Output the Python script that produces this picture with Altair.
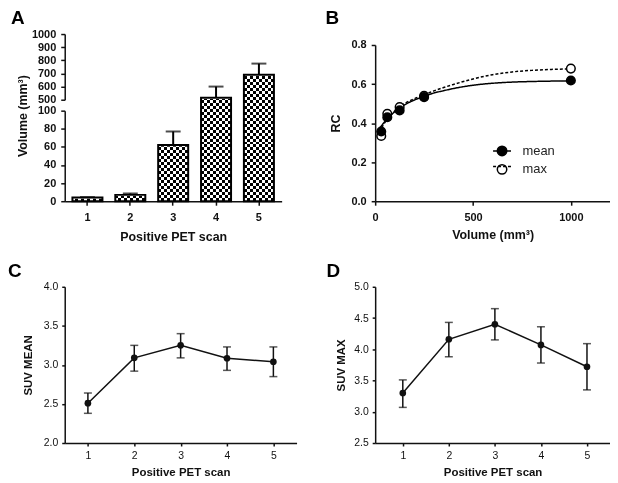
import altair as alt
import pandas as pd

FONT = "Liberation Sans"
INK = "#111111"

# ---------------- data ----------------
# Panel A: tumour volume per positive PET scan
scan_labels = ["1", "2", "3", "4", "5"]
volume_mm3 = [4, 7, 62, 515, 690]
volume_sem = [0.5, 1.5, 15, 85, 85]

# Panel B: recovery coefficient vs sphere volume
sphere_volume = [31, 62, 125, 250, 1000]
rc_mean = [0.357, 0.430, 0.465, 0.533, 0.618]
rc_max = [0.334, 0.448, 0.482, 0.540, 0.679]
fit_volume = [20, 60, 100, 150, 200, 250, 300, 350, 400, 500, 600, 700, 800, 900, 1000]
fit_mean = [0.370, 0.420, 0.458, 0.493, 0.518, 0.537, 0.554, 0.566, 0.577, 0.594, 0.604, 0.610, 0.613, 0.615, 0.616]
fit_max = [0.355, 0.418, 0.462, 0.500, 0.525, 0.545, 0.565, 0.582, 0.598, 0.626, 0.648, 0.662, 0.670, 0.675, 0.677]
series_names = ["mean", "max"]

# Panels C and D
scan_number = [1, 2, 3, 4, 5]
suv_mean = [2.51, 3.09, 3.25, 3.085, 3.04]
suv_mean_lo = [2.38, 2.92, 3.09, 2.93, 2.85]
suv_mean_hi = [2.64, 3.25, 3.40, 3.23, 3.23]
suv_max = [3.30, 4.16, 4.40, 4.07, 3.72]
suv_max_lo = [3.07, 3.88, 4.15, 3.78, 3.35]
suv_max_hi = [3.51, 4.43, 4.65, 4.36, 4.09]


# ---------------- helpers ----------------
def axis(orient, values=None, title=None, fmt=None, bold=True, lfs=11, tfs=12.5,
         lpad=5, tpad=8, tick=4, **extra):
    kw = dict(orient=orient, title=title, grid=False,
              labelFont=FONT, labelFontSize=lfs, labelFontWeight="bold" if bold else "normal",
              labelColor=INK, titleFont=FONT, titleFontSize=tfs, titleFontWeight="bold",
              titleColor=INK, domainColor=INK, domainWidth=1.5, tickColor=INK, tickWidth=1.5,
              tickSize=tick, labelPadding=lpad, titlePadding=tpad, labelFlush=False,
              labelOverlap=False)
    if values is not None:
        kw["values"] = values
    if fmt:
        kw["format"] = fmt
    if orient == "bottom":
        kw["labelAngle"] = 0
    kw.update(extra)
    return alt.Axis(**kw)


def stripes(n, along_y):
    stops = []
    for i in range(n):
        c = "black" if i % 2 == 0 else "white"
        stops.append(alt.GradientStop(offset=i / n, color=c))
        stops.append(alt.GradientStop(offset=(i + 1) / n, color=c))
    if along_y:
        return alt.LinearGradient(gradient="linear", stops=stops, x1=0, x2=0, y1=0, y2=1)
    return alt.LinearGradient(gradient="linear", stops=stops, x1=0, x2=1, y1=0, y2=0)


def letter(ch, dx, dy):
    return alt.Chart(pd.DataFrame({"t": [ch]})).mark_text(
        font=FONT, fontSize=19, fontWeight="bold", color="black", align="left",
        baseline="alphabetic").encode(text="t:N", x=alt.value(dx), y=alt.value(dy))


# ---------------- panel A (broken axis bar chart) ----------------
A_H = 168                      # plot height
LO_PX, HI_PX, GAP_PX = 91, 66, 11   # lower segment, upper segment, break (pixels)

dfA = pd.DataFrame({"scan": scan_labels, "volume": volume_mm3, "sem": volume_sem})
xA = alt.Scale(domain=scan_labels, paddingInner=0.3, paddingOuter=0.18)
yA_lo = alt.Scale(domain=[0, 100], range=[A_H, A_H - LO_PX], nice=False, zero=False)
yA_hi = alt.Scale(domain=[500, 1000], range=[HI_PX, 0], nice=False, zero=False)
xA_axis = axis("bottom", title="Positive PET scan", lpad=6, tpad=8)
yA_lo_axis = axis("left", [0, 20, 40, 60, 80, 100], title="Volume (mm³)", fmt="d", titleY=82)
yA_hi_axis = axis("left", [500, 600, 700, 800, 900, 1000], fmt="d")

# bar heights expressed on the lower scale, continuing through the axis break
to_lower = (f"datum.volume <= 100 ? datum.volume : "
            f"100 + ({GAP_PX} + (datum.volume - 500) * {HI_PX} / 500) * 100 / {LO_PX}")
top_lower = f"100 + ({GAP_PX} + {HI_PX}) * 100 / {LO_PX}"

A_src = alt.Chart(dfA).transform_calculate(
    v=to_lower, base="0", top=top_lower, e="datum.volume + datum.sem")
xA_enc = alt.X("scan:N", scale=xA, axis=xA_axis)


def YL(field):
    return alt.Y(field, type="quantitative", scale=yA_lo, axis=yA_lo_axis)


def YH(field):
    return alt.Y(field, type="quantitative", scale=yA_hi, axis=yA_hi_axis)


bg = A_src.mark_bar(fill=stripes(56, True)).encode(x=xA_enc, y=YL("base"), y2="top:Q")
fg = A_src.mark_bar(fill=stripes(10, False), blend="difference").encode(
    x=xA_enc, y=YL("v"), y2="base:Q")
cover = A_src.mark_bar(fill="white", stroke="white", strokeWidth=2.5).encode(
    x=xA_enc, y=YL("v"), y2="top:Q")
outline = A_src.mark_bar(fill="transparent", stroke="black", strokeWidth=2).encode(
    x=xA_enc, y=YL("v"), y2="base:Q")
err_lo_src = A_src.transform_filter("datum.volume < 100")
err_lo = err_lo_src.mark_rule(color="black", strokeWidth=2).encode(
    x=xA_enc, y=YL("volume"), y2="e:Q")
cap_lo = err_lo_src.mark_tick(color="black", orient="horizontal", size=15, thickness=2).encode(
    x=xA_enc, y=YL("e"))
lower = alt.layer(bg, fg, cover, outline, err_lo, cap_lo)

err_hi_src = A_src.transform_filter("datum.volume > 500")
err_hi = err_hi_src.mark_rule(color="black", strokeWidth=2).encode(
    x=xA_enc, y=YH("volume"), y2="e:Q")
cap_hi = err_hi_src.mark_tick(color="black", orient="horizontal", size=15, thickness=2).encode(
    x=xA_enc, y=YH("e"))
upper = alt.layer(err_hi, cap_hi)

panelA = alt.layer(lower, upper, letter("A", -54, -10)).resolve_scale(
    y="independent").properties(width=218, height=A_H)

# ---------------- panel B ----------------
dfB_fit = pd.DataFrame({
    "volume": fit_volume + fit_volume,
    "rc": fit_mean + fit_max,
    "series": ["mean"] * len(fit_mean) + ["max"] * len(fit_max),
})
dfB_pts = pd.DataFrame({
    "volume": sphere_volume + sphere_volume,
    "rc": rc_max + rc_mean,
    "series": ["max"] * len(rc_max) + ["mean"] * len(rc_mean),
})
xB = alt.X("volume:Q", scale=alt.Scale(domain=[0, 1200], nice=False, zero=False),
           axis=axis("bottom", [0, 500, 1000], title="Volume (mm³)", fmt="d", lpad=6, tpad=6))
yB = alt.Y("rc:Q", scale=alt.Scale(domain=[0, 0.8], range=[168, 11], nice=False, zero=False),
           axis=axis("left", [0, 0.2, 0.4, 0.6, 0.8], title="RC", fmt=".1f", tpad=9))

LEG = dict(title=None, orient="none", legendX=433, legendY=111, padding=0, symbolSize=90,
           symbolStrokeColor="black", symbolStrokeWidth=1.5, labelFont=FONT, labelFontSize=13,
           labelColor="#222222", labelOffset=14, rowPadding=1.5)

lines_B = alt.Chart(dfB_fit).mark_line(color="black", strokeWidth=1.5, interpolate="monotone").encode(
    x=xB, y=yB,
    strokeDash=alt.StrokeDash("series:N", sort=series_names,
                              scale=alt.Scale(range=[[1, 0], [3, 2]]),
                              legend=alt.Legend(symbolType="M-1.9,0L1.9,0", labelOpacity=0,
                                                zindex=2, **LEG)))
pts_B = alt.Chart(dfB_pts).mark_point(filled=True, size=75, shape="circle", stroke="black",
                                      strokeWidth=1.5, opacity=1).encode(
    x=xB, y=yB,
    fill=alt.Fill("series:N", scale=alt.Scale(domain=series_names, range=["black", "white"]),
                  legend=alt.Legend(symbolType="circle", zindex=1, **LEG)))
panelB = alt.layer(lines_B, pts_B, letter("B", -50, -10)).properties(width=236, height=168)


# ---------------- panels C and D ----------------
def suv_panel(vals, lo, hi, xdom, ydom, yvals, title, tpad, width, tag, ldx):
    df = pd.DataFrame({"scan": scan_number, "suv": vals, "lo": lo, "hi": hi})
    xs = alt.Scale(domain=xdom, nice=False, zero=False)
    ys = alt.Scale(domain=ydom, nice=False, zero=False)
    xax = axis("bottom", scan_number, title="Positive PET scan", fmt="d",
               bold=False, lfs=10.5, tfs=11.5, lpad=5, tpad=5, tick=3)
    yax = axis("left", yvals, title=title, fmt=".1f", bold=False,
               lfs=10.5, tfs=11.5, lpad=4, tpad=tpad, tick=3)
    x = alt.X("scan:Q", scale=xs, axis=xax)

    def Y(field):
        return alt.Y(field, type="quantitative", scale=ys, axis=yax)

    base = alt.Chart(df)
    line = base.mark_line(color=INK, strokeWidth=1.5).encode(x=x, y=Y("suv"))
    rule = base.mark_rule(color=INK, strokeWidth=1.5).encode(x=x, y=Y("lo"), y2="hi:Q")
    cap_l = base.mark_tick(color=INK, orient="horizontal", size=8, thickness=1.5).encode(
        x=x, y=Y("lo"))
    cap_h = base.mark_tick(color=INK, orient="horizontal", size=8, thickness=1.5).encode(
        x=x, y=Y("hi"))
    pts = base.mark_point(filled=True, size=45, shape="circle", color=INK, opacity=1).encode(
        x=x, y=Y("suv"))
    return alt.layer(line, rule, cap_l, cap_h, pts, letter(tag, ldx, -10)).properties(
        width=width, height=157)


panelC = suv_panel(suv_mean, suv_mean_lo, suv_mean_hi, [0.5, 5.5], [2.0, 4.0],
                   [2.0, 2.5, 3.0, 3.5, 4.0], "SUV MEAN", 10, 233, "C", -57)
panelD = suv_panel(suv_max, suv_max_lo, suv_max_hi, [0.4, 5.5], [2.5, 5.0],
                   [2.5, 3.0, 3.5, 4.0, 4.5, 5.0], "SUV MAX", 7, 236, "D", -49)

chart = alt.concat(
    panelA, panelB, panelC, panelD, columns=2,
    spacing={"row": 86, "column": 79}, bounds="flush", align="each"
).properties(padding=0).configure(font=FONT).configure_view(stroke=None)

chart.save("out.html", embed_options={"renderer": "svg", "actions": False})
